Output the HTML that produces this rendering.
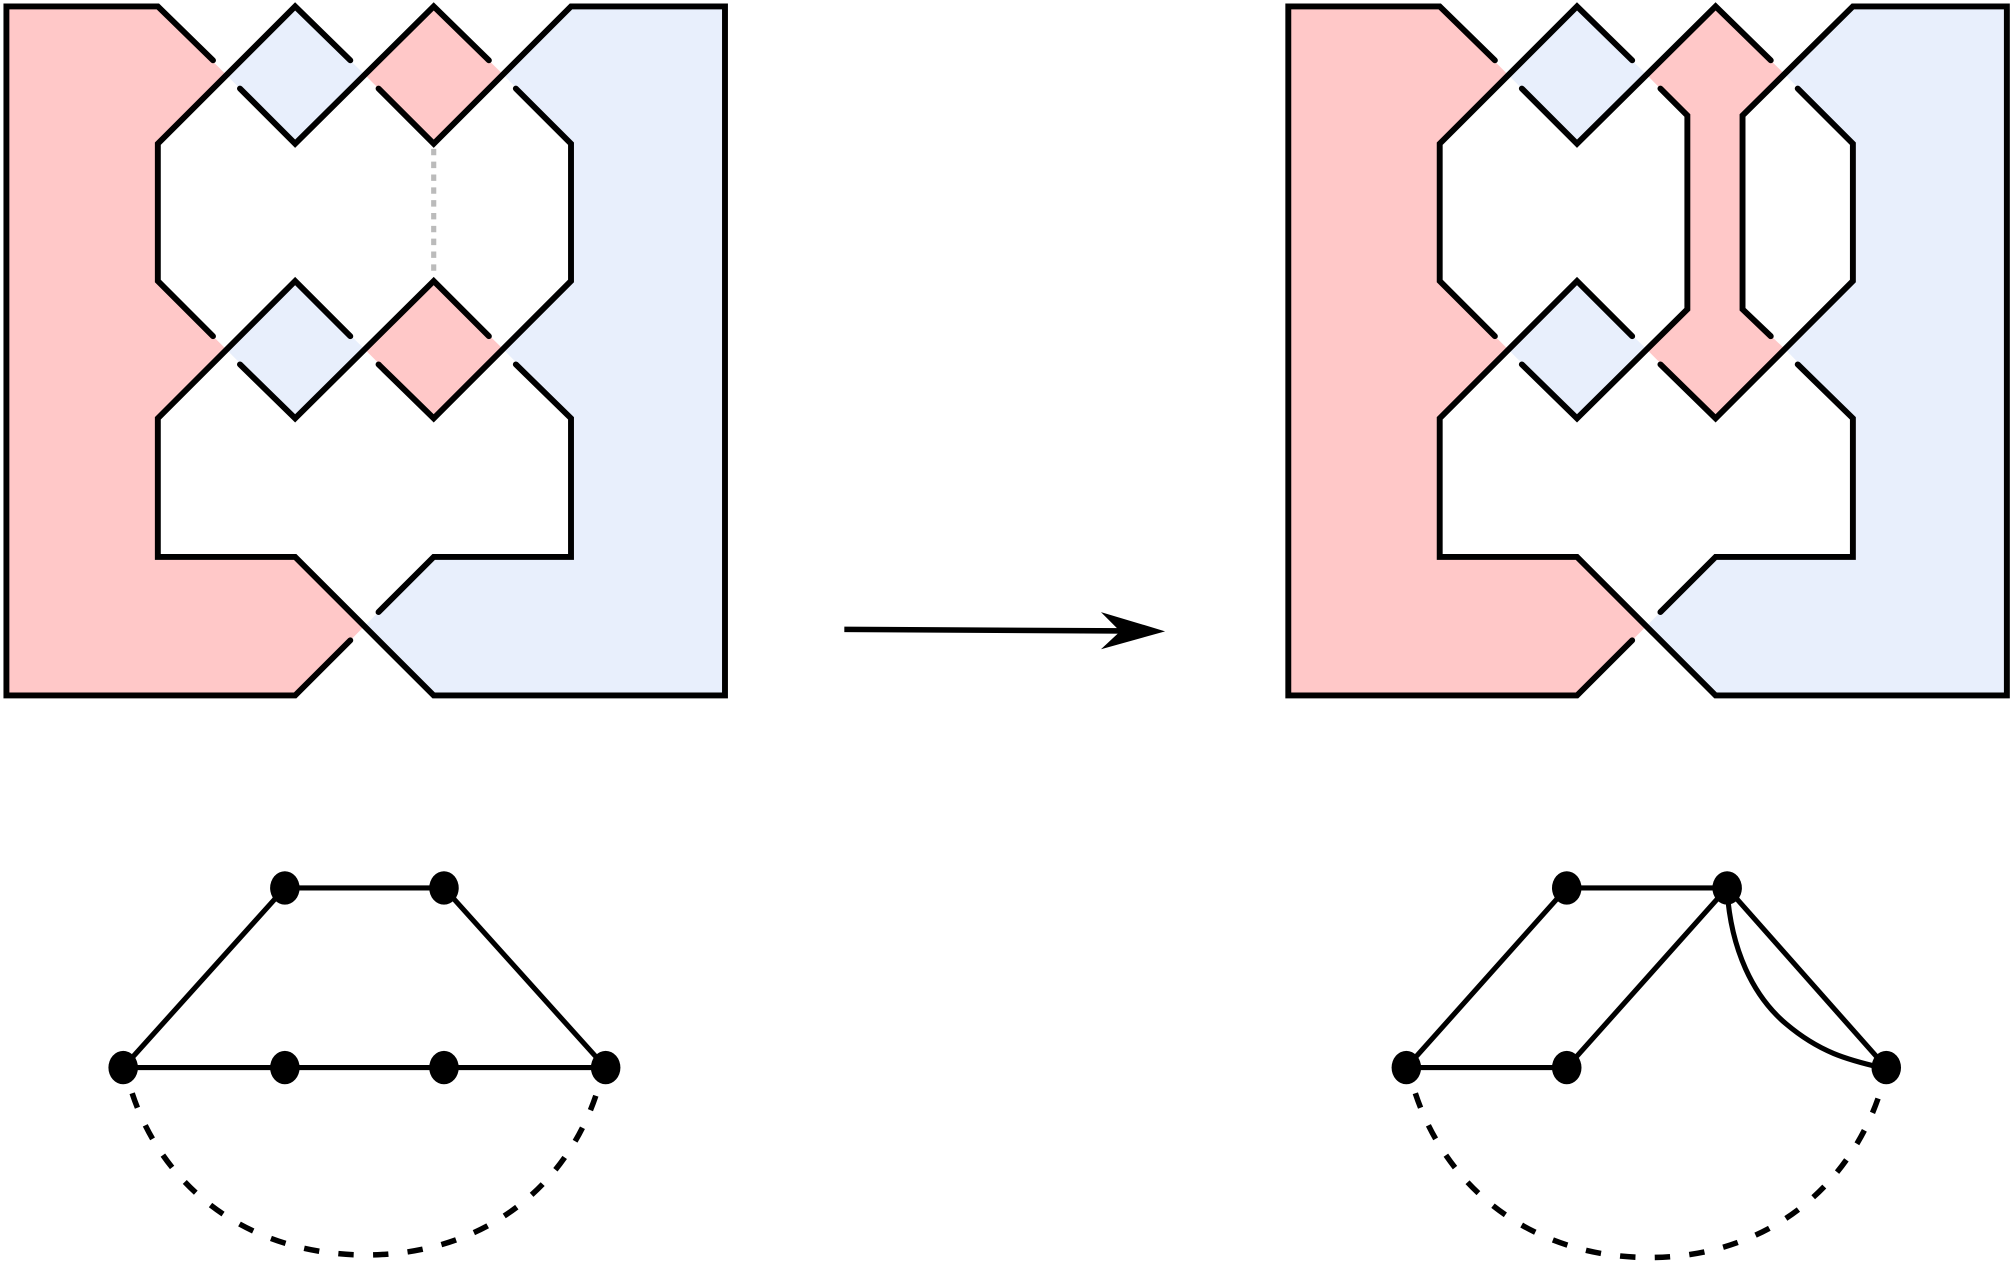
<!DOCTYPE html>
<html><head><meta charset="utf-8"><style>html,body{margin:0;padding:0;background:#fff;}svg{display:block;}</style></head>
<body>
<svg width="2012" height="1267" viewBox="0 0 1568 987.4" xmlns="http://www.w3.org/2000/svg">
<g fill="#ffc8c8" stroke="none">
<polygon points="5,5 123,5 176,58 123,112 123,219 176,272 123,326 123,434 230,434 284,488 230,542 5,542"/>
<polygon points="338,5 392,58 338,112 284,58"/>
<polygon points="338,219 392,272 338,326 284,272"/>
<polygon points="1004,5 1122,5 1175,58 1122,112 1122,219 1175,272 1122,326 1122,434 1229,434 1283,488 1229,542 1004,542"/>
<polygon points="1337,5 1391,58 1358,90 1358,241 1391,272 1337,326 1283,272 1315,241 1315,90 1283,58"/>
</g>
<g fill="#e8effc" stroke="none">
<polygon points="230,5 284,58 230,112 176,58"/>
<polygon points="230,219 284,272 230,326 176,272"/>
<polygon points="445,5 565,5 565,542 338,542 284,488 338,434 445,434 445,326 392,272 445,219 445,112 392,58"/>
<polygon points="1229,5 1283,58 1229,112 1175,58"/>
<polygon points="1229,219 1283,272 1229,326 1175,272"/>
<polygon points="1444,5 1564,5 1564,542 1337,542 1283,488 1337,434 1444,434 1444,326 1391,272 1444,219 1444,112 1391,58"/>
</g>
<line x1="338" y1="116" x2="338" y2="216" stroke="#bbb" stroke-width="4" stroke-dasharray="5,5"/>
<g fill="none" stroke="#000" stroke-width="4.6" stroke-linecap="round" stroke-linejoin="miter">
<polyline points="166,47 123,5 5,5 5,542 230,542 273,499"/>
<polyline points="273,47 230,5 123,112 123,219 166,262"/>
<polyline points="187,69 230,112 338,5 381,47"/>
<polyline points="295,69 338,112 445,5 565,5 565,542 338,542 230,434 123,434 123,326 230,219 273,262"/>
<polyline points="402,69 445,112 445,219 338,326 295,284"/>
<polyline points="187,284 230,326 338,219 381,262"/>
<polyline points="402,284 445,326 445,434 338,434 295,477"/>

<polyline points="1165,47 1122,5 1004,5 1004,542 1229,542 1272,499"/>
<polyline points="1272,47 1229,5 1122,112 1122,219 1165,262"/>
<polyline points="1186,69 1229,112 1337,5 1380,47"/>
<polyline points="1294,69 1315,90 1315,241 1229,326 1186,284"/>
<polyline points="1380,262 1358,241 1358,90 1444,5 1564,5 1564,542 1337,542 1229,434 1122,434 1122,326 1229,219 1272,262"/>
<polyline points="1401,69 1444,112 1444,219 1337,326 1294,284"/>
<polyline points="1401,284 1444,326 1444,434 1337,434 1294,477"/>
</g>
<line x1="658" y1="490.5" x2="878" y2="491.7" stroke="#000" stroke-width="4.3"/>
<polygon points="858,477 908,492 858,506 873,492" fill="#000"/>

<g stroke="#000" stroke-width="4" fill="none">
<line x1="96" y1="832" x2="222" y2="692"/>
<line x1="222" y1="692" x2="346" y2="692"/>
<line x1="346" y1="692" x2="472" y2="832"/>
<line x1="96" y1="832" x2="472" y2="832"/>
<path d="M103,852 C128,928 196,978 285,978 C374,978 440,928 465,852" stroke-width="4.3" stroke-dasharray="12,15"/>

<line x1="1096" y1="832" x2="1221" y2="692"/>
<line x1="1221" y1="692" x2="1346" y2="692"/>
<line x1="1346" y1="692" x2="1221" y2="832"/>
<line x1="1096" y1="832" x2="1221" y2="832"/>
<line x1="1346" y1="692" x2="1470" y2="832"/>
<path d="M1346,694 C1349,740 1366,776 1392,798 C1418,820 1440,826 1466,832"/>
<path d="M1103,852 C1128,928 1196,980 1285,980 C1374,980 1440,928 1465,852" stroke-width="4.3" stroke-dasharray="12,15"/>
</g>
<g fill="#000">
<ellipse cx="96" cy="832" rx="11.5" ry="13"/>
<ellipse cx="222" cy="692" rx="11.5" ry="13"/>
<ellipse cx="346" cy="692" rx="11.5" ry="13"/>
<ellipse cx="222" cy="832" rx="11.5" ry="13"/>
<ellipse cx="346" cy="832" rx="11.5" ry="13"/>
<ellipse cx="472" cy="832" rx="11.5" ry="13"/>
<ellipse cx="1096" cy="832" rx="11.5" ry="13"/>
<ellipse cx="1221" cy="692" rx="11.5" ry="13"/>
<ellipse cx="1346" cy="692" rx="11.5" ry="13"/>
<ellipse cx="1221" cy="832" rx="11.5" ry="13"/>
<ellipse cx="1470" cy="832" rx="11.5" ry="13"/>
</g>
</svg>
</body></html>
